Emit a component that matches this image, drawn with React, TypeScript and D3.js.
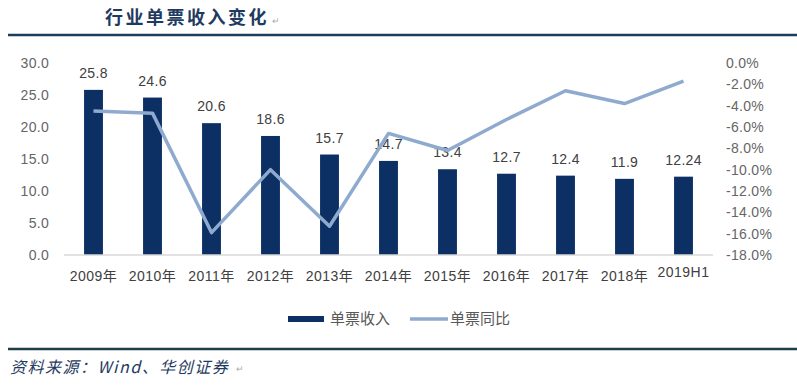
import * as d3 from "d3"
import { useEffect, useRef } from "react"
import React = require("react")

const years = ["2009年", "2010年", "2011年", "2012年", "2013年", "2014年", "2015年", "2016年", "2017年", "2018年", "2019H1"]
const revenue = [25.8, 24.6, 20.6, 18.6, 15.7, 14.7, 13.4, 12.7, 12.4, 11.9, 12.24]
const revenueLabels = ["25.8", "24.6", "20.6", "18.6", "15.7", "14.7", "13.4", "12.7", "12.4", "11.9", "12.24"]
const yoy = [-4.5, -4.7, -15.9, -10.0, -15.3, -6.6, -8.2, -5.3, -2.6, -3.8, -1.7]
const leftTicks = [0, 5, 10, 15, 20, 25, 30]
const rightTicks = [0, -2, -4, -6, -8, -10, -12, -14, -16, -18]

const BAR = "#0c2f64"
const LINE = "#8faacf"
const FONT = "Arial, 'Liberation Sans', 'Noto Sans CJK SC', sans-serif"

const App = () => {
    const svgRef = useRef(null)

    useEffect(() => {
        const width = 797
        const height = 385
        const margin = { top: 63, right: 84, bottom: 130, left: 64 }

        const svg = d3.select(svgRef.current)
            .attr("width", width)
            .attr("height", height)
            .style("background", "#ffffff")
        svg.selectAll("*").remove()

        const x = d3.scaleBand()
            .domain(years)
            .range([margin.left, width - margin.right])
            .paddingInner(0.68)
            .paddingOuter(0.34)

        const y = d3.scaleLinear().domain([0, 30]).range([height - margin.bottom, margin.top])
        const y2 = d3.scaleLinear().domain([-18, 0]).range([height - margin.bottom, margin.top])

        // title
        svg.append("text")
            .attr("x", 105).attr("y", 24)
            .attr("font-family", "'Noto Sans CJK SC', serif")
            .attr("font-weight", "bold")
            .attr("font-size", 18)
            .attr("letter-spacing", 2.5)
            .attr("fill", "#1f3a60")
            .text("行业单票收入变化")
        svg.append("text")
            .attr("x", 272).attr("y", 24)
            .attr("font-size", 9).attr("fill", "#aaa")
            .attr("font-family", FONT)
            .text("↵")
        svg.append("line")
            .attr("x1", 8).attr("x2", width).attr("y1", 35).attr("y2", 35)
            .attr("stroke", "#1e3d5a").attr("stroke-width", 2.5)

        // left axis labels
        svg.append("g").selectAll("text")
            .data(leftTicks)
            .join("text")
            .attr("x", 49)
            .attr("y", (d) => y(d))
            .attr("dy", "0.35em")
            .attr("text-anchor", "end")
            .attr("font-family", FONT).attr("font-size", 14).attr("fill", "#666")
            .attr("letter-spacing", 0.3)
            .text((d) => d.toFixed(1))

        // right axis labels
        svg.append("g").selectAll("text")
            .data(rightTicks)
            .join("text")
            .attr("x", 726)
            .attr("y", (d) => y2(d))
            .attr("dy", "0.35em")
            .attr("font-family", FONT).attr("font-size", 14).attr("fill", "#666")
            .attr("letter-spacing", 0.3)
            .text((d) => d.toFixed(1) + "%")

        // bars
        svg.append("g").selectAll("rect")
            .data(revenue)
            .join("rect")
            .attr("x", (d, i) => x(years[i]))
            .attr("y", (d) => y(d))
            .attr("width", x.bandwidth())
            .attr("height", (d) => y(0) - y(d))
            .attr("fill", BAR)

        // baseline
        svg.append("line")
            .attr("x1", margin.left).attr("x2", width - margin.right)
            .attr("y1", y(0)).attr("y2", y(0))
            .attr("stroke", "#d9d9d9").attr("stroke-width", 1.5)

        // bar value labels
        svg.append("g").selectAll("text")
            .data(revenue)
            .join("text")
            .attr("x", (d, i) => x(years[i]) + x.bandwidth() / 2)
            .attr("y", (d) => y(d) - 12)
            .attr("text-anchor", "middle")
            .attr("font-family", FONT).attr("font-size", 14).attr("fill", "#404040")
            .attr("letter-spacing", 0.3)
            .text((d, i) => revenueLabels[i])

        // yoy line
        const line = d3.line<number>()
            .x((d, i) => x(years[i]) + x.bandwidth() / 2)
            .y((d) => y2(d))
        svg.append("path")
            .datum(yoy)
            .attr("d", line)
            .attr("fill", "none")
            .attr("stroke", LINE)
            .attr("stroke-width", 3.5)
            .attr("stroke-linejoin", "round")

        // x labels
        svg.append("g").selectAll("text")
            .data(years)
            .join("text")
            .attr("x", (d) => x(d) + x.bandwidth() / 2)
            .attr("y", (d) => d.endsWith("H1") ? 277 : 281)
            .attr("text-anchor", "middle")
            .attr("font-family", FONT).attr("font-size", 14).attr("fill", "#404040")
            .attr("letter-spacing", 0.5)
            .text((d) => d)

        // legend
        const lg = svg.append("g")
        lg.append("rect").attr("x", 288).attr("y", 316).attr("width", 36).attr("height", 6).attr("fill", BAR)
        lg.append("text").attr("x", 330).attr("y", 324)
            .attr("font-family", FONT).attr("font-size", 15).attr("fill", "#595959").text("单票收入")
        lg.append("line").attr("x1", 410).attr("x2", 448).attr("y1", 319).attr("y2", 319)
            .attr("stroke", LINE).attr("stroke-width", 3.5)
        lg.append("text").attr("x", 450).attr("y", 324)
            .attr("font-family", FONT).attr("font-size", 15).attr("fill", "#595959").text("单票同比")

        // footer
        svg.append("line")
            .attr("x1", 8).attr("x2", width).attr("y1", 349).attr("y2", 349)
            .attr("stroke", "#1e3d4a").attr("stroke-width", 2.5)
        svg.append("text")
            .attr("x", 10).attr("y", 373)
            .attr("font-family", "'Noto Sans CJK SC', serif")
            .attr("font-style", "italic")
            .attr("font-size", 16)
            .attr("letter-spacing", 1.5)
            .attr("fill", "#1f3a60")
            .text("资料来源：Wind、华创证券")
        svg.append("text")
            .attr("x", 236).attr("y", 372)
            .attr("font-size", 9).attr("fill", "#aaa")
            .attr("font-family", FONT)
            .text("↵")
    }, [])

    return <svg ref={svgRef} style={{ position: "absolute", left: 0, top: 0 }}></svg>
}

export default App
